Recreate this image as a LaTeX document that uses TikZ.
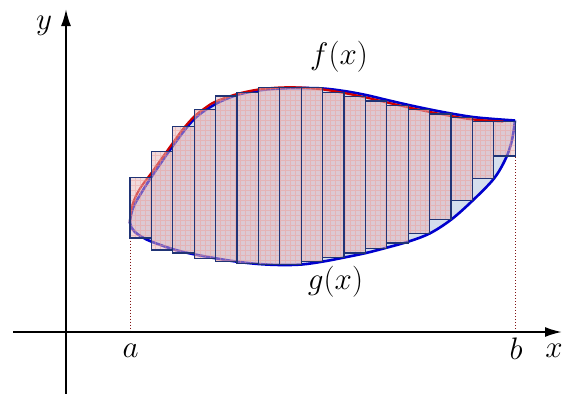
\documentclass[tikz,border=0pt]{standalone}
\usepackage{graphicx}
\usetikzlibrary{arrows.meta}
\definecolor{regionblue}{RGB}{212,222,237}
\definecolor{rectpink}{RGB}{228,182,186}
\definecolor{gridred}{RGB}{240,150,140}
\definecolor{rectnavy}{RGB}{32,52,118}
\definecolor{curveblue}{RGB}{0,0,205}
\definecolor{curvered}{RGB}{205,0,0}
\definecolor{dotred}{RGB}{130,20,20}
\newcommand{\biglabel}[1]{\scalebox{1.25}{$#1$}}
\begin{document}
\begin{tikzpicture}[x=1pt,y=-1pt,
  axisline/.style={line width=2pt,-{Latex[length=17pt,width=10pt]}},
  dotline/.style={dotred,dotted,line width=1pt},
  blobline/.style={curveblue,line width=2.6pt,line join=round},
  fline/.style={curvered,line width=2.2pt,line cap=round},
  rectfill/.style={fill=rectpink,fill opacity=0.5},
  rectborder/.style={draw=rectnavy,line width=1.2pt},
  gridlines/.style={gridred,line width=0.3pt,opacity=0.4},
  lbl/.style={inner sep=0pt,anchor=base,font=\fontsize{24}{28}\selectfont}]
\useasboundingbox (0,0) rectangle (563,394);

% region between f and g
\fill[regionblue] plot[smooth,tension=0.55] coordinates {
 (515,120.5) (494,119) (472.7,117) (451,113.5) (430,109.5) (408.7,105) (387,100) (366,95) (344,91) (323,88.5) (300,88) (280,88.5) (258,90.5) (237,95) (215.6,104) (194.2,119) (172.8,146) (151.4,177) (140,195) (133,208) (130,222.7)
 (134,231) (142,237) (151.7,241.7) (173.3,249.3) (194,254.3) (215.7,258.3) (237,261.7) (258.3,264) (280,265) (301.7,264.5) (323.3,261.5) (344.3,257.5) (366,253) (387.3,247.5) (408.7,241.5) (430,233.3) (451.3,219.5) (472.7,200.5) (494,178.5) (506,158) (512,140) (515,120.5)} -- cycle;

% dotted lines to a and b
\coordinate (pa) at (130,222.7);
\coordinate (pb) at (515.2,121);
\coordinate (qa) at (130,332);
\coordinate (qb) at (515.2,332);
\draw[dotline] (pa) -- (qa);
\draw[dotline] (pb) -- (qb);

% axes
\coordinate (xs) at (13,332);
\coordinate (xe) at (562,332);
\coordinate (ys) at (66,394);
\coordinate (ye) at (66,9);
\draw[axisline] (xs) -- (xe);
\draw[axisline] (ys) -- (ye);

% boundary curves
\draw[blobline] plot[smooth,tension=0.55] coordinates {
 (515,120.5) (494,119) (472.7,117) (451,113.5) (430,109.5) (408.7,105) (387,100) (366,95) (344,91) (323,88.5) (300,88) (280,88.5) (258,90.5) (237,95) (215.6,104) (194.2,119) (172.8,146) (151.4,177) (140,195) (133,208) (130,222.7)
 (134,231) (142,237) (151.7,241.7) (173.3,249.3) (194,254.3) (215.7,258.3) (237,261.7) (258.3,264) (280,265) (301.7,264.5) (323.3,261.5) (344.3,257.5) (366,253) (387.3,247.5) (408.7,241.5) (430,233.3) (451.3,219.5) (472.7,200.5) (494,178.5) (506,158) (512,140) (515,120.5)};
\draw[fline] plot[smooth,tension=0.55] coordinates {
 (130,222.7) (131,210) (135,198) (141,187) (151.4,173) (162,158) (172.8,143) (183,129) (194.2,116.5) (205,108) (215.6,101.5) (237,94) (258,89.5) (280,87.5) (300,87.5) (323,89.5) (344,93) (366,97.5) (387,102.5) (408.7,107.5) (430,112) (451,116) (472.7,119.5) (503,121.5)};

% Riemann rectangles: left/right/top/bottom
\foreach \xl/\xr/\yt/\yb in {
 130/151.4/177.7/238, 151.4/172.8/151.7/250, 172.8/194.2/126.3/253,
 194.2/215.6/109.3/258.5, 215.6/237/96/261.5, 237/258.4/92.3/263.5,
 258.4/279.8/87.3/264.5, 279.8/301.2/87.3/264.5, 301.2/322.6/87.5/261.5,
 322.6/344/92.7/257.5, 344/365.4/96.7/253, 365.4/386.8/101/248.5,
 386.8/408.2/105.3/243, 408.2/429.6/109.3/233.3, 429.6/451/114/219.5,
 451/472.4/117.3/200.5, 472.4/493.8/121.7/178.5, 493.8/515.2/121.7/156}{
  \fill[rectfill] (\xl,\yt) rectangle (\xr,\yb);
  \begin{scope}
    \clip (\xl,\yt) rectangle (\xr,\yb);
    \draw[gridlines,step=5pt] (120,80) grid (520,270);
  \end{scope}
  \draw[rectborder] (\xl,\yt) rectangle (\xr,\yb);
}

% labels
\node[lbl] (ylab) at (44,29.5) {\biglabel{y}};
\node[lbl] (xlab) at (554,357) {\biglabel{x}};
\node[lbl] (alab) at (130.5,357) {\biglabel{a}};
\node[lbl] (blab) at (516,359.5) {\biglabel{b}};
\node[lbl] (flab) at (339,64) {\biglabel{f(x)}};
\node[lbl] (glab) at (335.5,289) {\biglabel{g(x)}};
\end{tikzpicture}
\end{document}
